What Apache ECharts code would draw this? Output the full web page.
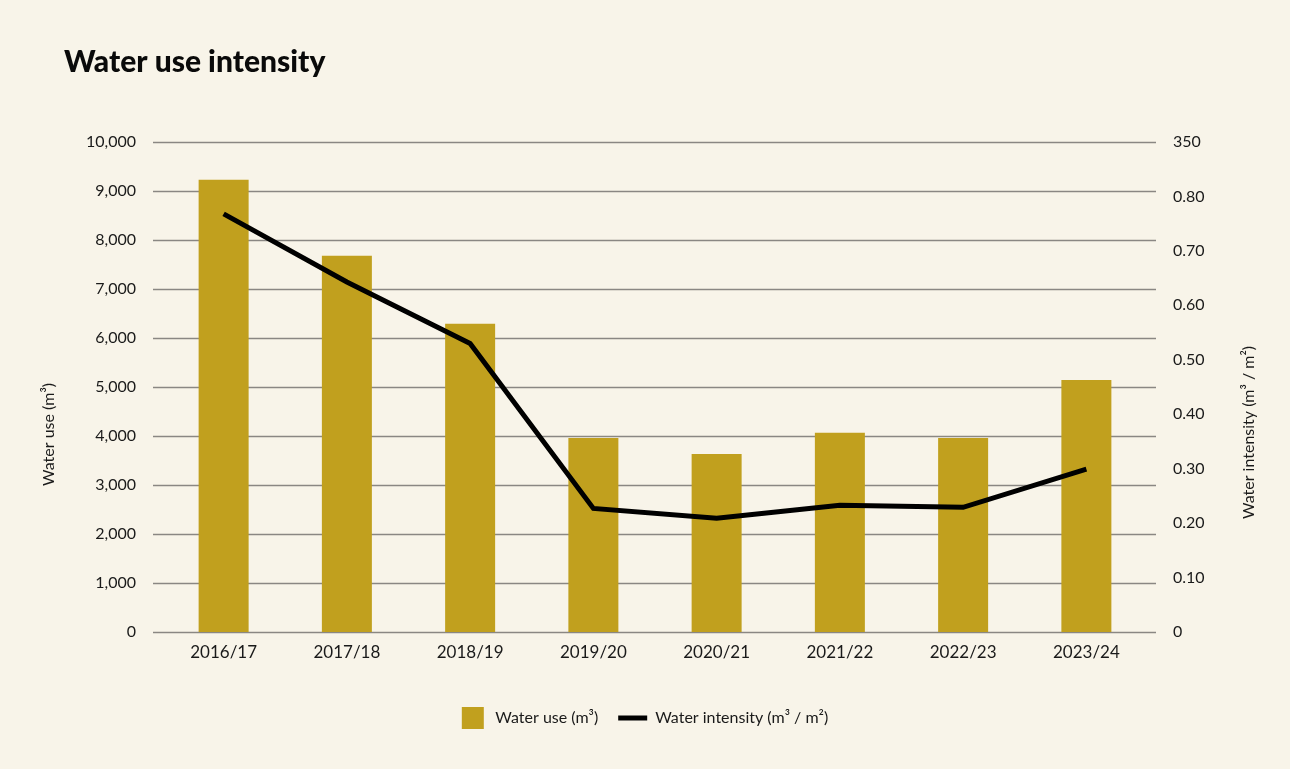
<!DOCTYPE html>
<html>
<head>
<meta charset="utf-8">
<title>Water use intensity</title>
<script src="https://cdn.jsdelivr.net/npm/echarts@6/dist/echarts.min.js"></script>
<style>
  html, body { margin: 0; padding: 0; background: #F8F4E9; }
  #chart { width: 1290px; height: 769px; }
</style>
</head>
<body>
<div id="chart"></div>
<script>
// Reporting years
const years = ['2016/17', '2017/18', '2018/19', '2019/20', '2020/21', '2021/22', '2022/23', '2023/24'];
// Total water use, m³
const waterUse = [9230, 7680, 6290, 3960, 3635, 4065, 3960, 5145];
// Water intensity, m³ per m² of floor area
const waterIntensity = [0.768, 0.643, 0.530, 0.227, 0.209, 0.233, 0.229, 0.299];
// Right-hand tick labels, bottom to top
const intensityTicks = ['0', '0.10', '0.20', '0.30', '0.40', '0.50', '0.60', '0.70', '0.80', '350'];

const FONT = 'Lato, "Noto Sans", sans-serif';
const TEXT = '#1a1a1a';
const BAR = '#C1A01E';

const chart = echarts.init(document.getElementById('chart'), null, { renderer: 'canvas' });

const gridTop = 142, gridBottom = 137;

chart.setOption({
  backgroundColor: '#F8F4E9',
  animation: false,
  textStyle: { fontFamily: FONT, color: TEXT },
  title: {
    text: 'Water use intensity',
    left: 59, top: 42,
    textStyle: { fontFamily: 'Lato, sans-serif', fontWeight: 900, fontSize: 30, color: '#0a0a0a' }
  },
  legend: {
    bottom: 35, left: 'center',
    itemGap: 20,
    itemWidth: 29, itemHeight: 22,
    symbolKeepAspect: true,
    textStyle: { fontFamily: FONT, fontSize: 16, color: TEXT, padding: [0, 0, 0, 3] },
    data: [
      { name: 'Water use (m³)', icon: 'path://M0,0h22v22h-22z', itemStyle: { color: BAR } },
      { name: 'Water intensity (m³ / m²)', icon: 'path://M0,0h29v5h-29z', itemStyle: { color: '#000' } }
    ]
  },
  grid: [
    // Gridline frame (slightly wider than the category bands)
    { left: 153, right: 134, top: gridTop, bottom: gridBottom },
    // Plot area for bars and line
    { left: 162, right: 142, top: gridTop, bottom: gridBottom }
  ],
  xAxis: [
    { type: 'category', gridIndex: 0, data: years, show: false },
    {
      type: 'category', gridIndex: 1, data: years,
      axisLine: { show: false }, axisTick: { show: false },
      axisLabel: { fontFamily: FONT, fontSize: 17, color: TEXT, margin: 12 }
    }
  ],
  yAxis: [
    {
      type: 'value', gridIndex: 0, min: 0, max: 10000, interval: 1000,
      axisLine: { show: false }, axisTick: { show: false },
      axisLabel: {
        fontFamily: FONT, fontSize: 16, color: TEXT, margin: 17,
        formatter: v => v.toLocaleString('en-US')
      },
      splitLine: { lineStyle: { color: '#8a8783', width: 1.3 } }
    },
    {
      type: 'value', gridIndex: 0, position: 'right', min: 0, max: 0.9, interval: 0.1,
      axisLine: { show: false }, axisTick: { show: false }, splitLine: { show: false },
      axisLabel: {
        fontFamily: FONT, fontSize: 16, color: TEXT, margin: 17,
        formatter: (v) => intensityTicks[Math.round(v * 10)]
      }
    },
    { type: 'value', gridIndex: 1, min: 0, max: 10000, show: false },
    { type: 'value', gridIndex: 1, min: 0, max: 0.9, show: false }
  ],
  graphic: [
    {
      type: 'text', left: 41, top: 383, rotation: Math.PI / 2,
      style: { text: 'Water use (m³)', font: '16px ' + FONT, fill: TEXT }
    },
    {
      type: 'text', left: 1241, top: 346, rotation: Math.PI / 2,
      style: { text: 'Water intensity (m³ / m²)', font: '16px ' + FONT, fill: TEXT }
    }
  ],
  series: [
    {
      name: 'Water use (m³)', type: 'bar',
      xAxisIndex: 1, yAxisIndex: 2,
      data: waterUse, barWidth: 50,
      itemStyle: { color: BAR }
    },
    {
      name: 'Water intensity (m³ / m²)', type: 'line',
      xAxisIndex: 1, yAxisIndex: 3,
      data: waterIntensity,
      symbol: 'none',
      lineStyle: { color: '#000', width: 5, cap: 'butt', join: 'miter' },
      itemStyle: { color: '#000' }
    }
  ]
});
</script>
</body>
</html>
